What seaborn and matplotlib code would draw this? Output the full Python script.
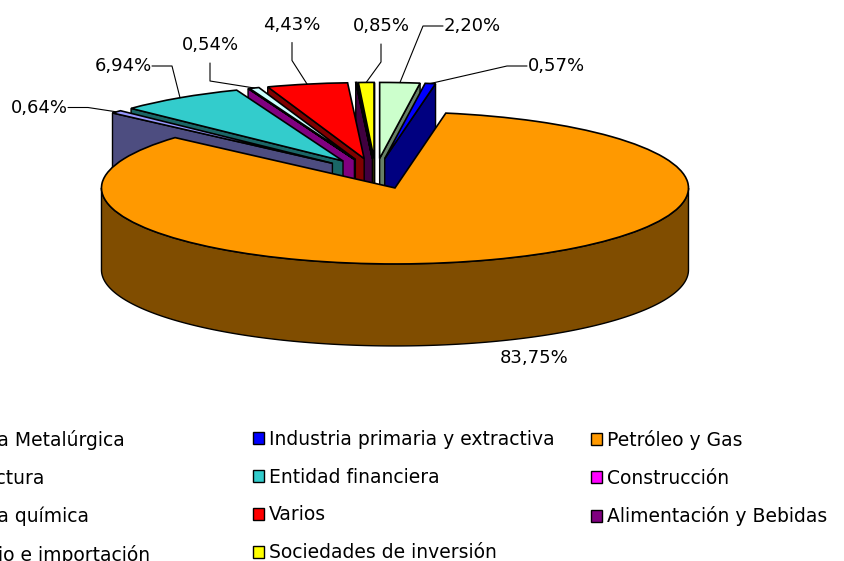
import numpy as np
import matplotlib
matplotlib.use('Agg')
import matplotlib.pyplot as plt
from matplotlib.patches import Patch, Polygon
import seaborn as sns

# --- datos ---
sectores = ['Industria Metalúrgica', 'Industria primaria y extractiva', 'Petróleo y Gas',
            'Manufactura', 'Entidad financiera', 'Construcción',
            'Industria química', 'Varios', 'Alimentación y Bebidas',
            'Comercio e importación', 'Sociedades de inversión']
porcentajes = [2.20, 0.57, 83.75, 0.64, 6.94, 0.03, 0.54, 4.43, 0.03, 0.02, 0.85]
colores = ['#CCFFCC', '#0000FF', '#FF9900', '#9999FF', '#33CCCC', '#FF00FF',
           '#CCFFFF', '#FF0000', '#800080', '#993366', '#FFFF00']

# --- layout (pixels of the 845x561 canvas) ---
W, H = 845, 561
CX, CY = 375.6, 173.6      # pie centre
RX, RY = 293.5, 76.0       # ellipse radii
DEPTH = 82.0 / RY          # height of the cake, in radius units
EXPLODE = 0.2

# label text position and where the leader line attaches
etiquetas = {0: (472, 26, 'left'), 1: (556, 66, 'left'), 2: (534, 358, None),
             3: (39, 107.5, 'right'), 4: (123, 66, 'right'), 6: (210, 45, 'bottom'),
             7: (292, 24.5, 'bottom'), 10: (381, 26, 'bottom')}


def a_datos(px, py):
    return (px - CX) / RX, (CY - py) / RY


def oscurecer(c):
    r, g, b = matplotlib.colors.to_rgb(c)
    return (r * 0.5, g * 0.5, b * 0.5)


sns.set_theme(style='white')
plt.rcParams['font.family'] = ['DejaVu Sans']
plt.rcParams['text.color'] = 'black'
plt.rcParams['legend.labelcolor'] = 'black'

fig = plt.figure(figsize=(W / 100, H / 100), dpi=100)
ax = fig.add_axes([0, 0, 1, 1])

wedges, _ = ax.pie(porcentajes, colors=colores, explode=[EXPLODE] * len(porcentajes),
                   startangle=90, counterclock=False,
                   wedgeprops=dict(edgecolor='black', linewidth=1.2, zorder=10))

# side walls, back to front
orden = sorted(range(len(wedges)), key=lambda i: -wedges[i].center[1])
for rank, i in enumerate(orden):
    w = wedges[i]
    cx, cy = w.center
    t1, t2 = w.theta1, w.theta2
    lado = oscurecer(colores[i])
    z = 2 + rank * 0.01
    # radial faces
    for t, visible in ((t1, np.cos(np.radians(t1)) > 0), (t2, np.cos(np.radians(t2)) < 0)):
        if visible:
            ex, ey = cx + np.cos(np.radians(t)), cy + np.sin(np.radians(t))
            pts = [(cx, cy), (ex, ey), (ex, ey - DEPTH), (cx, cy - DEPTH)]
            ax.add_patch(Polygon(pts, closed=True, facecolor=lado, edgecolor='black',
                                 linewidth=1.0, zorder=z))
    # outer wall (front half only)
    for k in range(-2, 3):
        lo, hi = max(t1, -180 + 360 * k), min(t2, 360 * k)
        if hi > lo:
            t = np.radians(np.linspace(lo, hi, int((hi - lo) * 2) + 2))
            top = np.column_stack([cx + np.cos(t), cy + np.sin(t)])
            bot = top - [0, DEPTH]
            ax.add_patch(Polygon(np.vstack([top, bot[::-1]]), closed=True, facecolor=lado,
                                 edgecolor='black', linewidth=1.0, zorder=z + 0.005))

# percentage labels with leader lines
for i, (lx, ly, lado) in etiquetas.items():
    w = wedges[i]
    texto = f'{porcentajes[i]:.2f}'.replace('.', ',') + '%'
    ax.text(*a_datos(lx, ly), texto, ha='center', va='center', fontsize=13,
            color='black', zorder=20)
    if lado is None:
        continue
    m = np.radians((w.theta1 + w.theta2) / 2)
    borde = (w.center[0] + np.cos(m), w.center[1] + np.sin(m))
    if lado == 'right':
        p0, p1 = a_datos(lx + 29, ly), a_datos(lx + 49, ly)
    elif lado == 'left':
        p0, p1 = a_datos(lx - 29, ly), a_datos(lx - 49, ly)
    else:
        p0, p1 = a_datos(lx, ly + 18), a_datos(lx, ly + 36)
    ax.plot([p0[0], p1[0], borde[0]], [p0[1], p1[1], borde[1]], color='black',
            linewidth=0.8, zorder=15)

ax.set_aspect('auto')
ax.set_xlim(-CX / RX, (W - CX) / RX)
ax.set_ylim((CY - H) / RY, CY / RY)
ax.axis('off')

# legend: three columns, filled row by row like the original
handles = [Patch(facecolor=c, edgecolor='black', linewidth=1.0) for c in colores]
columnas = [[0, 3, 6, 9], [1, 4, 7, 10], [2, 5, 8]]
x_col = [-90, 253, 591]
for xc, idx in zip(x_col, columnas):
    fig.legend([handles[i] for i in idx], [sectores[i] for i in idx], loc='upper left',
               bbox_to_anchor=(xc / W, 1 - 430 / H), frameon=False, fontsize=13.5,
               handlelength=0.6, handleheight=0.6, handletextpad=0.25,
               labelspacing=1.0, borderpad=0, borderaxespad=0, labelcolor='black')

fig.savefig('out.png', dpi=100, facecolor='white')
